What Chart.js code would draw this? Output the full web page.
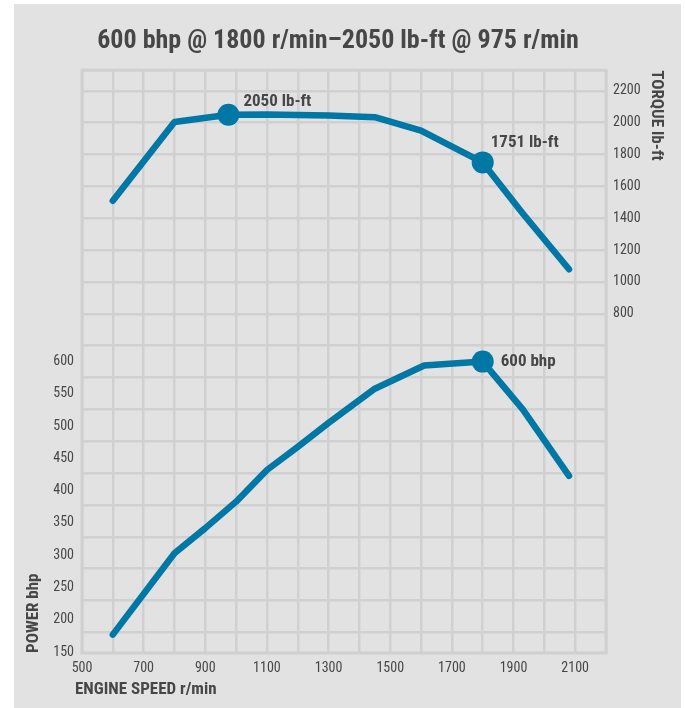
<!DOCTYPE html>
<html><head><meta charset="utf-8">
<script src="https://cdn.jsdelivr.net/npm/chart.js@4"></script>
<style>
html,body{margin:0;padding:0;background:#fff;}
#panel{position:absolute;left:14px;top:4px;width:667px;height:704px;background:#e2e2e2;}
#wrap{position:absolute;left:0;top:0;width:685px;height:708px;}
</style></head>
<body>
<div id="panel"></div>
<div id="wrap"><canvas id="c" width="685" height="708"></canvas></div>
<script>
// ---- data ----
const torqueRpm   = [600, 800, 975, 1100, 1300, 1450, 1600, 1800, 1930, 2080];
const torqueLbFt  = [1510, 2005, 2050, 2052, 2045, 2035, 1950, 1751, 1430, 1080];
const powerRpm    = [600, 800, 900, 1000, 1100, 1200, 1300, 1450, 1610, 1800, 1930, 2080];
const powerBhp    = [177, 303, 342, 383, 432, 468, 505, 558, 594, 600, 526, 423];
const torquePeaks = [975, 1800];
const powerPeaks  = [1800];
const torquePeakLabels = ['2050 lb-ft', '1751 lb-ft'];
const powerPeakLabels  = ['600 bhp'];
const rpmTickLabels    = [500, 700, 900, 1100, 1300, 1500, 1700, 1900, 2100];
const powerTickLabels  = [150, 200, 250, 300, 350, 400, 450, 500, 550, 600];
const torqueTickLabels = [800, 1000, 1200, 1400, 1600, 1800, 2000, 2200];
const titleText = '600 bhp @ 1800 r/min\u20132050 lb-ft @ 975 r/min';

// ---- styles ----
const BLUE = '#0077a5';
const TEXT = '#474747';
const GRID = '#d0d0d0';
const FAM  = 'Roboto, "Liberation Sans", sans-serif';
const COND = 'condensed';

const pts = (xs, ys) => xs.map((x, i) => ({x, y: ys[i]}));

const frame = {
  id: 'frame',
  beforeDatasetsDraw(chart) {
    const a = chart.chartArea, ctx = chart.ctx;
    ctx.save();
    ctx.strokeStyle = GRID; ctx.lineWidth = 3;
    ctx.strokeRect(a.left, a.top, a.right - a.left, a.bottom - a.top);
    ctx.restore();
  }
};

const annot = {
  id: 'annot',
  afterDatasetsDraw(chart) {
    const ctx = chart.ctx;
    ctx.save();
    ctx.font = COND + ' bold 17px ' + FAM;
    ctx.fillStyle = TEXT;
    ctx.textBaseline = 'middle';
    ctx.textAlign = 'left';
    const offs = [[[15, -13], [8, -20]], [[18, 0]]];
    const sets = [[torquePeaks, torquePeakLabels], [powerPeaks, powerPeakLabels]];
    sets.forEach(([peaks, labels], di) => {
      const meta = chart.getDatasetMeta(di);
      const data = chart.data.datasets[di].data;
      peaks.forEach((rpm, k) => {
        const idx = data.findIndex(p => p.x === rpm);
        const el = meta.data[idx];
        ctx.fillText(labels[k], el.x + offs[di][k][0], el.y + offs[di][k][1]);
      });
    });
    // x axis title
    ctx.font = COND + ' bold 17px ' + FAM;
    ctx.fillText('ENGINE SPEED r/min', 75, 690);
    // lowest power tick label (at the scale's bottom edge)
    const yP = chart.scales.yP;
    const low = powerTickLabels[0];
    ctx.font = COND + ' normal 14px ' + FAM;
    ctx.textAlign = 'right';
    ctx.fillText(String(low), yP.right - 8, yP.getPixelForValue(low));
    ctx.restore();
  }
};

const tickFont = { family: FAM, weight: COND, size: 14 };
const axisTitleFont = { family: FAM, weight: COND + ' bold', size: 17, lineHeight: 1.2 };

new Chart(document.getElementById('c'), {
  type: 'line',
  data: {
    datasets: [
      {
        label: 'Torque', data: pts(torqueRpm, torqueLbFt), yAxisID: 'yT',
        borderColor: BLUE, backgroundColor: BLUE, borderWidth: 6.5,
        borderCapStyle: 'round', borderJoinStyle: 'round', tension: 0,
        pointRadius: c => torquePeaks.includes(c.raw && c.raw.x) ? 11 : 0,
        pointBorderWidth: 0, pointHoverRadius: 0
      },
      {
        label: 'Power', data: pts(powerRpm, powerBhp), yAxisID: 'yP',
        borderColor: BLUE, backgroundColor: BLUE, borderWidth: 6.5,
        borderCapStyle: 'round', borderJoinStyle: 'round', tension: 0,
        pointRadius: c => powerPeaks.includes(c.raw && c.raw.x) ? 11 : 0,
        pointBorderWidth: 0, pointHoverRadius: 0
      }
    ]
  },
  options: {
    responsive: false,
    animation: false,
    devicePixelRatio: 1,
    layout: { padding: { left: 0, right: 9, top: 0, bottom: 0 } },
    plugins: {
      legend: { display: false },
      tooltip: { enabled: false },
      title: {
        display: true, text: titleText, color: TEXT,
        font: { family: FAM, weight: COND + ' bold', size: 26, lineHeight: 1.2 },
        padding: { top: 26, bottom: 13 }
      }
    },
    scales: {
      x: {
        type: 'linear', min: 500, max: 2200,
        afterFit: s => { s.height = 55; },
        grid: { color: GRID, lineWidth: 2.5, drawTicks: false },
        border: { display: false },
        ticks: {
          stepSize: 100, padding: 7, color: TEXT, maxRotation: 0, autoSkip: false,
          font: tickFont,
          callback: v => rpmTickLabels.includes(v) ? String(v) : ''
        }
      },
      yP: {
        type: 'linear', position: 'left', min: 148.5, max: 1051.5,
        afterFit: s => { s.width = 82; },
        grid: { display: false, drawTicks: false },
        border: { display: false },
        ticks: {
          stepSize: 50, padding: 8, color: TEXT, autoSkip: false, includeBounds: false,
          font: tickFont,
          callback: v => (powerTickLabels.includes(v) && v !== powerTickLabels[0]) ? String(v) : ''
        },
        title: {
          display: true, text: 'POWER bhp', align: 'start', color: TEXT,
          font: axisTitleFont,
          padding: { top: 24, bottom: 0 }
        }
      },
      yT: {
        type: 'linear', position: 'right', min: -1330, max: 2330,
        afterFit: s => { s.width = 70; },
        grid: { color: GRID, lineWidth: 2.5, drawTicks: false, drawOnChartArea: true },
        border: { display: false },
        ticks: {
          stepSize: 200, padding: 7, color: TEXT, autoSkip: false, includeBounds: false,
          font: tickFont,
          callback: v => torqueTickLabels.includes(v) ? String(v) : ''
        },
        title: {
          display: true, text: 'TORQUE lb-ft', align: 'end', color: TEXT,
          font: axisTitleFont,
          padding: { top: 10, bottom: 0 }
        }
      }
    }
  },
  plugins: [frame, annot]
});
</script></body></html>
